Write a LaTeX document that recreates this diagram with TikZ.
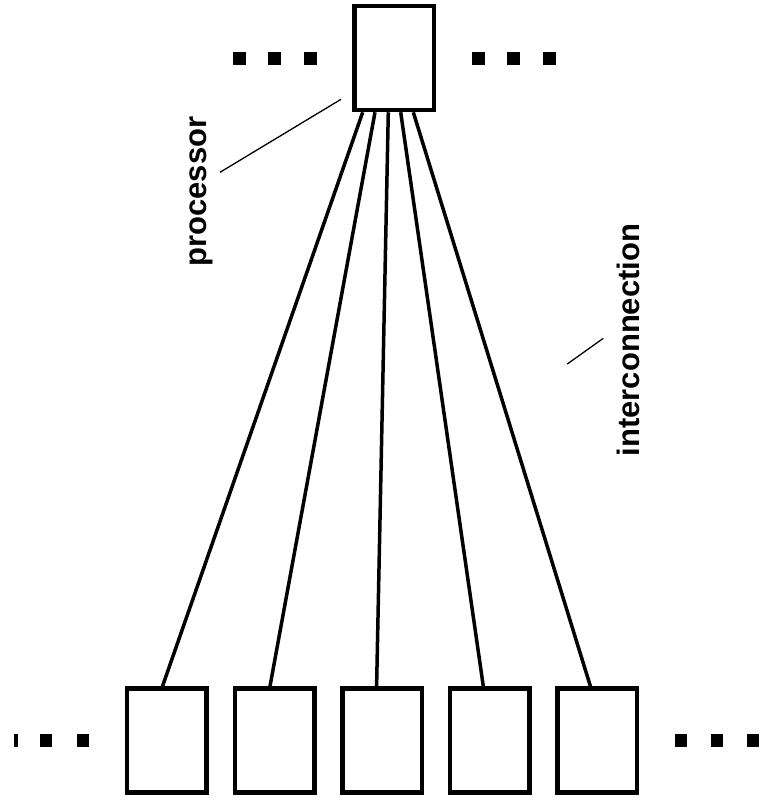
\documentclass[tikz,border=0pt]{standalone}
\usepackage{fontspec}
\setmainfont{Liberation Sans}
\begin{document}
\begin{tikzpicture}[x=1pt,y=-1pt,
  unitbox/.style={draw, line width=4.5pt, fill=white, inner sep=0pt,
    minimum width=79.5pt, minimum height=104pt},
  wire/.style={line width=3.5pt},
  leader/.style={line width=1.3pt},
  dotsq/.style={fill=black},
  lbl/.style={rotate=90, inner sep=0pt, font=\fontsize{31}{31}\selectfont\bfseries}]
\useasboundingbox (0,0) rectangle (760,807);
\fill[white] (0,0) rectangle (760,807);

% processor and memory modules
\node[unitbox] (proc) at (394,58) {};
\node[unitbox] (m1) at (166.5,740.5) {};
\node[unitbox] (m2) at (274.6,740.5) {};
\node[unitbox] (m3) at (382.2,740.5) {};
\node[unitbox] (m4) at (489.6,740.5) {};
\node[unitbox] (m5) at (597.2,740.5) {};

% interconnection wires
\draw[wire] ([xshift=-31.3pt]proc.south) -- ([xshift=-4pt]m1.north);
\draw[wire] ([xshift=-19pt]proc.south)   -- ([xshift=-4.6pt]m2.north);
\draw[wire] ([xshift=-5.7pt]proc.south)  -- ([xshift=-5.6pt]m3.north);
\draw[wire] ([xshift=6.7pt]proc.south)   -- ([xshift=-6.3pt]m4.north);
\draw[wire] ([xshift=19.3pt]proc.south)  -- ([xshift=-6.8pt]m5.north);

% ellipsis squares
\foreach \x in {233,268,304,472,507,543}
  \fill[dotsq] (\x,52) rectangle ++(12.5,13);
\fill[dotsq] (13.6,734) rectangle (17.5,747);
\foreach \x in {40,76.6,675,711,747}
  \fill[dotsq] (\x,734) rectangle ++(12.2,13);

% labels with leader lines
\node[lbl] (plabel) at (201.5,191.5) {processor};
\coordinate (pl1) at (341,99.3);
\coordinate (pl2) at (220,172.3);
\draw[leader] (pl1) -- (pl2);

\node[lbl] (ilabel) at (628.5,340) {interconnection};
\coordinate (il1) at (603.3,338.3);
\coordinate (il2) at (567.3,364);
\draw[leader] (il1) -- (il2);
\end{tikzpicture}
\end{document}
